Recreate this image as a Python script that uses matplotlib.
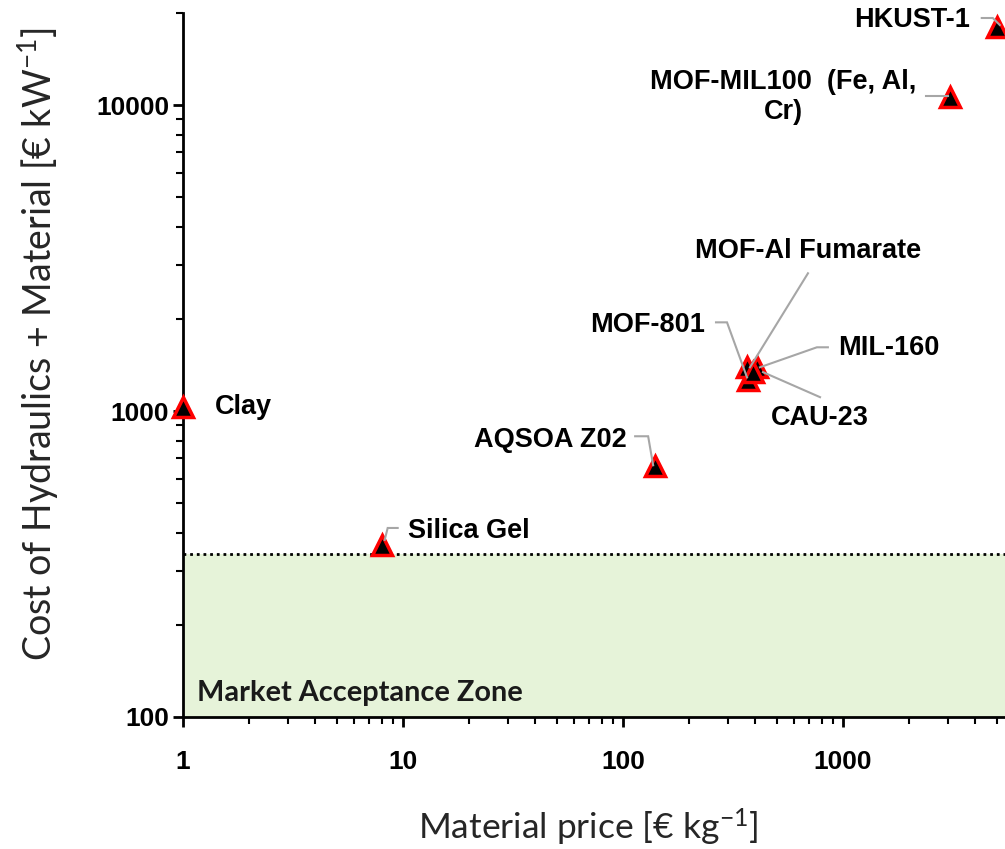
import matplotlib
matplotlib.use("Agg")
import matplotlib.pyplot as plt
from matplotlib.ticker import LogLocator, FuncFormatter, NullFormatter
import numpy as np

plt.rcParams['font.family'] = ['Liberation Sans', 'DejaVu Sans']
plt.rcParams['mathtext.default'] = 'regular'

# Sorbent materials: price per kg vs. hydraulics + material cost per kW
materials = ["Clay", "Silica Gel", "AQSOA Z02", "MOF-801", "MOF-Al Fumarate",
             "MIL-160", "CAU-23", "MOF-MIL100  (Fe, Al,\nCr)", "HKUST-1"]
price = [1, 8, 140, 370, 366, 406, 390, 3050, 5000]
cost = [1030, 365, 660, 1260, 1390, 1390, 1340, 10600, 18000]
market_limit = 340

x_ticks = [1, 10, 100, 1000]
y_ticks = [100, 1000, 10000]

W, H, DPI = 1005, 849, 100
fig = plt.figure(figsize=(W / DPI, H / DPI), dpi=DPI)
ax = fig.add_axes([183 / W, 132 / H, 822 / W, 704 / H])
ax.set_xscale('log')
ax.set_yscale('log')
ax.set_xlim(1, 10 ** (822 / 220))
ax.set_ylim(100, 20000)

# market acceptance zone
ax.axhspan(100, market_limit, color='#E6F3D9', zorder=0, lw=0)
ax.axhline(market_limit, color='black', ls=(0, (1, 1.4)), lw=2, zorder=1)
ax.text(0.017, 0.034, "Market Acceptance Zone", transform=ax.transAxes,
        fontsize=20.8, fontweight='bold', family=['Lato', 'DejaVu Sans'],
        ha='left', va='center', color='#1a1a1a')

ax.plot(price, cost, ls='none', marker='^', ms=15, mfc='black', mec='red',
        mew=2.5, zorder=5, clip_on=False)

# label placement: text offset and leader vertices, in pixels (y downwards)
layout = {
    "Clay": ((32, 0), 'left', []),
    "Silica Gel": ((26, -14), 'left', [(16, -17), (6, -17), (3, -5)]),
    "AQSOA Z02": ((-28, -26), 'right', [(-20, -30), (-7, -30), (-2, -1)]),
    "MOF-801": ((-43, -55), 'right', [(-32, -58), (-21, -58), (-1, -3)]),
    "MOF-Al Fumarate": ((61, -116), 'center', [(61, -94), (3, 0)]),
    "MIL-160": ((81, -19), 'left', [(71, -20), (60, -20), (3, 0)]),
    "CAU-23": ((67, 46), 'center', [(67, 25), (10, 0)]),
    "MOF-MIL100  (Fe, Al,\nCr)": ((-166, 0), 'center', [(-24, -1), (-2, -1)]),
    "HKUST-1": ((-27, -7), 'right', [(-15, -9), (-4, -9), (3, -2)]),
}

for name, xv, yv in zip(materials, price, cost):
    (dx, dy), ha, leader = layout[name]
    ax.annotate(name, xy=(xv, yv), xytext=(dx, -dy), textcoords='offset pixels',
                ha=ha, va='center', multialignment='center',
                fontsize=19.5, fontweight='bold', color='black', zorder=7,
                annotation_clip=False)
    if leader:
        bx, by = ax.transData.transform((xv, yv))
        pts = np.array([(bx + ox, by - oy) for ox, oy in leader])
        ax.plot(pts[:, 0], pts[:, 1], color='#A6A6A6', lw=1.5, transform=None,
                zorder=6, clip_on=False, solid_joinstyle='miter')

for s in ('top', 'right'):
    ax.spines[s].set_visible(False)
for s in ('left', 'bottom'):
    ax.spines[s].set_linewidth(2)
    ax.spines[s].set_color('black')

fmt = FuncFormatter(lambda v, _: f"{v:g}")
ax.xaxis.set_major_locator(LogLocator(base=10))
ax.yaxis.set_major_locator(LogLocator(base=10))
ax.xaxis.set_minor_locator(LogLocator(base=10, subs=np.arange(2, 10)))
ax.yaxis.set_minor_locator(LogLocator(base=10, subs=np.arange(2, 10)))
ax.xaxis.set_major_formatter(fmt)
ax.yaxis.set_major_formatter(fmt)
ax.xaxis.set_minor_formatter(NullFormatter())
ax.yaxis.set_minor_formatter(NullFormatter())
ax.set_xticks(x_ticks)
ax.set_yticks(y_ticks)

ax.tick_params(which='major', direction='out', length=7, width=2, labelsize=19)
ax.tick_params(which='minor', direction='out', length=5, width=1.5)
ax.tick_params(axis='x', which='major', pad=17)
ax.tick_params(axis='y', which='major', pad=3)
for lbl in ax.get_xticklabels() + ax.get_yticklabels():
    lbl.set_fontweight('bold')

ax.set_xlabel("Material price [€ kg$^{-1}$]", fontsize=25.5,
              family=['Lato', 'DejaVu Sans'], va='center', color='#262626')
ax.xaxis.set_label_coords(0.4927, -0.157)
ax.set_ylabel("Cost of Hydraulics + Material [€ kW$^{-1}$]", fontsize=27,
              family=['Lato', 'DejaVu Sans'], va='center', color='#262626')
ax.yaxis.set_label_coords(-0.176, 0.53)

fig.savefig("out.png", dpi=DPI)
